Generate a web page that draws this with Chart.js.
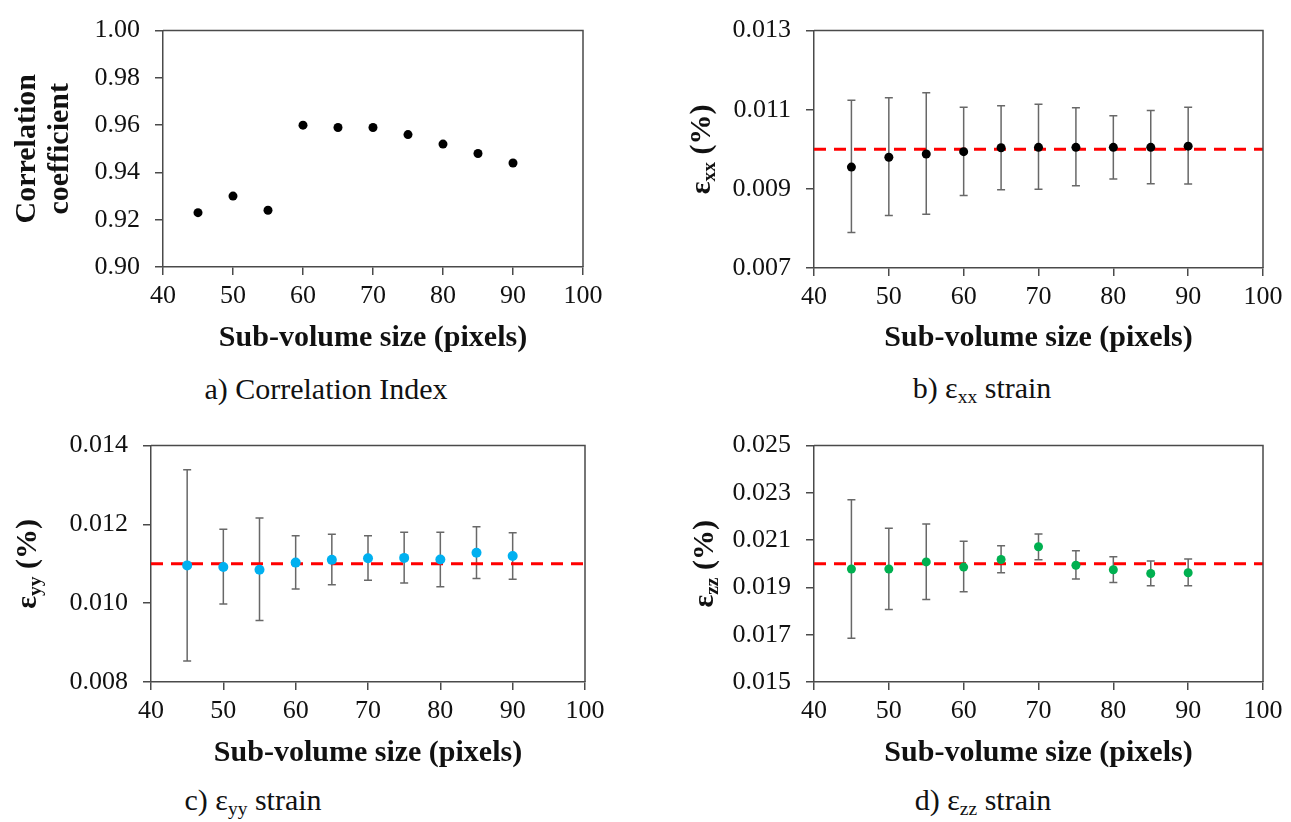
<!DOCTYPE html>
<html>
<head>
<meta charset="utf-8">
<script src="https://cdn.jsdelivr.net/npm/chart.js@4.4.0/dist/chart.umd.min.js"></script>
<style>
body { margin: 0; background: #fff; width: 1291px; height: 822px; position: relative; overflow: hidden; font-family: 'Liberation Serif', 'Times New Roman', 'DejaVu Serif', serif; }
canvas { position: absolute; }
.cap { position: absolute; font-size: 30px; color: #111; white-space: nowrap; transform: translate(-50%, -50%); }
.cap sub { font-size: 65%; vertical-align: -0.25em; line-height: 0; }
</style>
</head>
<body>
<canvas id="chartA" width="645" height="365" style="left:0;top:0"></canvas>
<canvas id="chartB" width="641" height="365" style="left:650px;top:0"></canvas>
<canvas id="chartC" width="645" height="365" style="left:0;top:415px"></canvas>
<canvas id="chartD" width="641" height="365" style="left:650px;top:415px"></canvas>
<div class="cap" style="left:326px;top:389px">a) Correlation Index</div>
<div class="cap" style="left:982px;top:388px">b) ε<sub>xx</sub> strain</div>
<div class="cap" style="left:253px;top:800px">c) ε<sub>yy</sub> strain</div>
<div class="cap" style="left:983px;top:800px">d) ε<sub>zz</sub> strain</div>
<script>
// data
var sizes = [45, 50, 55, 60, 65, 70, 75, 80, 85, 90]
var xTicks = [40, 50, 60, 70, 80, 90, 100]

var corrCoef = [0.923, 0.930, 0.924, 0.960, 0.959, 0.959, 0.956, 0.952, 0.948, 0.944]
var corrTicks = [0.90, 0.92, 0.94, 0.96, 0.98, 1.00]

var exxMean = [0.00955, 0.00980, 0.00988, 0.00994, 0.01004, 0.01005, 0.01005, 0.01005, 0.01005, 0.01008]
var exxHigh = [0.01124, 0.01130, 0.01143, 0.01106, 0.01110, 0.01114, 0.01105, 0.01085, 0.01098, 0.01106]
var exxLow = [0.00790, 0.00833, 0.00836, 0.00883, 0.00898, 0.00899, 0.00908, 0.00925, 0.00913, 0.00912]
var exxRef = 0.010
var exxTicks = [0.007, 0.009, 0.011, 0.013]

var eyyMean = [0.01096, 0.01092, 0.01085, 0.01103, 0.01110, 0.01114, 0.01115, 0.01111, 0.01128, 0.01120]
var eyyHigh = [0.01339, 0.01188, 0.01216, 0.01171, 0.01175, 0.01171, 0.01180, 0.01180, 0.01194, 0.01179]
var eyyLow = [0.00853, 0.00998, 0.00956, 0.01036, 0.01047, 0.01058, 0.01051, 0.01042, 0.01063, 0.01061]
var eyyRef = 0.011
var eyyTicks = [0.008, 0.010, 0.012, 0.014]

var ezzMean = [0.01978, 0.01978, 0.02008, 0.01986, 0.02018, 0.02072, 0.01994, 0.01975, 0.01959, 0.01962]
var ezzHigh = [0.02271, 0.02150, 0.02168, 0.02095, 0.02076, 0.02126, 0.02055, 0.02030, 0.02012, 0.02020]
var ezzLow = [0.01685, 0.01807, 0.01849, 0.01882, 0.01962, 0.02017, 0.01936, 0.01921, 0.01907, 0.01907]
var ezzRef = 0.020
var ezzTicks = [0.015, 0.017, 0.019, 0.021, 0.023, 0.025]

var fontFam = "'Liberation Serif', 'Times New Roman', 'DejaVu Serif', serif"
var axisColor = '#4a4a4a'
var textColor = '#111'

// frame round the plot area (top and right sides)
var boxPlugin = {
    id: 'box',
    afterDraw(chart) {
        var a = chart.chartArea
        var ctx = chart.ctx
        ctx.save()
        ctx.strokeStyle = axisColor
        ctx.lineWidth = 1.5
        ctx.beginPath()
        ctx.moveTo(a.left, a.top)
        ctx.lineTo(a.right, a.top)
        ctx.lineTo(a.right, a.bottom)
        ctx.stroke()
        ctx.restore()
    }
}

var errorBarPlugin = {
    id: 'errorBars',
    beforeDatasetsDraw(chart, args, opts) {
        if (!opts || !opts.low) return
        var xs = chart.scales.x, ys = chart.scales.y
        var ctx = chart.ctx
        ctx.save()
        ctx.strokeStyle = '#686868'
        ctx.lineWidth = 1.5
        for (var i = 0; i < sizes.length; i++) {
            var x = xs.getPixelForValue(sizes[i])
            var y1 = ys.getPixelForValue(opts.low[i])
            var y2 = ys.getPixelForValue(opts.high[i])
            ctx.beginPath()
            ctx.moveTo(x, y1); ctx.lineTo(x, y2)
            ctx.moveTo(x - 4, y1); ctx.lineTo(x + 4, y1)
            ctx.moveTo(x - 4, y2); ctx.lineTo(x + 4, y2)
            ctx.stroke()
        }
        ctx.restore()
    }
}

// rotated y title, with subscripts
var yTitlePlugin = {
    id: 'yTitle',
    afterDraw(chart, args, opts) {
        if (!opts || !opts.lines) return
        var ctx = chart.ctx
        var a = chart.chartArea
        var size = opts.size || 30
        ctx.save()
        ctx.fillStyle = textColor
        ctx.textBaseline = 'middle'
        ctx.textAlign = 'left'
        opts.lines.forEach(function (parts, li) {
            var x = opts.x[li]
            var total = 0
            parts.forEach(function (p) {
                ctx.font = 'bold ' + (p.sub ? size * 0.65 : size) + 'px ' + fontFam
                p.w = ctx.measureText(p.t).width
                total += p.w
            })
            ctx.save()
            ctx.translate(x, (a.top + a.bottom) / 2)
            ctx.rotate(-Math.PI / 2)
            var pos = -total / 2
            parts.forEach(function (p) {
                ctx.font = 'bold ' + (p.sub ? size * 0.65 : size) + 'px ' + fontFam
                ctx.fillText(p.t, pos, p.sub ? size * 0.28 : 0)
                pos += p.w
            })
            ctx.restore()
        })
        ctx.restore()
    }
}

function makeChart(id, cfg) {
    var datasets = [{
        data: sizes.map(function (s, i) { return { x: s, y: cfg.values[i] } }),
        backgroundColor: cfg.color,
        borderWidth: 0,
        pointRadius: cfg.radius || 4.5,
        showLine: false
    }]
    if (cfg.ref != null) {
        datasets.push({
            data: [{ x: xTicks[0], y: cfg.ref }, { x: xTicks[xTicks.length - 1], y: cfg.ref }],
            borderColor: '#ff0000',
            borderWidth: 3,
            borderDash: [12, 8],
            pointRadius: 0,
            showLine: true
        })
    }
    var tickFont = { family: fontFam, size: 26 }
    return new Chart(document.getElementById(id), {
        type: 'scatter',
        data: { datasets: datasets },
        plugins: [boxPlugin, errorBarPlugin, yTitlePlugin],
        options: {
            responsive: false,
            animation: false,
            devicePixelRatio: 1,
            layout: { padding: cfg.padding },
            plugins: {
                legend: { display: false },
                tooltip: { enabled: false },
                errorBars: { low: cfg.low, high: cfg.high },
                yTitle: cfg.yTitle
            },
            scales: {
                x: {
                    type: 'linear',
                    min: xTicks[0],
                    max: xTicks[xTicks.length - 1],
                    afterBuildTicks: function (s) { s.ticks = xTicks.map(function (v) { return { value: v } }) },
                    afterFit: function (s) { s.height = cfg.xHeight },
                    ticks: { font: tickFont, color: textColor, padding: 6, autoSkip: false, maxRotation: 0 },
                    grid: { drawOnChartArea: false, tickLength: 8, color: axisColor, lineWidth: 1.5 },
                    border: { color: axisColor, width: 1.5 },
                    title: {
                        display: true,
                        text: 'Sub-volume size (pixels)',
                        color: textColor,
                        font: { family: fontFam, size: 30, weight: 'bold' },
                        padding: { top: 0, bottom: 9 }
                    }
                },
                y: {
                    type: 'linear',
                    min: cfg.yTicks[0],
                    max: cfg.yTicks[cfg.yTicks.length - 1],
                    afterBuildTicks: function (s) { s.ticks = cfg.yTicks.map(function (v) { return { value: v } }) },
                    afterFit: function (s) { s.width = cfg.yWidth },
                    ticks: {
                        font: tickFont, color: textColor, padding: 15, autoSkip: false,
                        callback: function (v) { return Number(v).toFixed(cfg.decimals) }
                    },
                    grid: { drawOnChartArea: false, tickLength: 8, color: axisColor, lineWidth: 1.5 },
                    border: { color: axisColor, width: 1.5 }
                }
            }
        }
    })
}

makeChart('chartA', {
    values: corrCoef, color: '#000', yTicks: corrTicks, decimals: 2,
    padding: { left: 0, top: 20, right: 62, bottom: 0 }, yWidth: 163, xHeight: 98,
    yTitle: { x: [27, 60], lines: [[{ t: 'Correlation' }], [{ t: 'coefficient' }]] }
})

makeChart('chartB', {
    values: exxMean, low: exxLow, high: exxHigh, ref: exxRef, color: '#000', yTicks: exxTicks, decimals: 3,
    padding: { left: 0, top: 20, right: 28, bottom: 0 }, yWidth: 164, xHeight: 97,
    yTitle: { x: [52], lines: [[{ t: 'ε' }, { t: 'xx', sub: true }, { t: ' (%)' }]] }
})

makeChart('chartC', {
    values: eyyMean, low: eyyLow, high: eyyHigh, ref: eyyRef, color: '#00b0f0', yTicks: eyyTicks, decimals: 3,
    radius: 5,
    padding: { left: 0, top: 22, right: 60, bottom: 0 }, yWidth: 151, xHeight: 98,
    yTitle: { x: [28], lines: [[{ t: 'ε' }, { t: 'yy', sub: true }, { t: ' (%)' }]] }
})

makeChart('chartD', {
    values: ezzMean, low: ezzLow, high: ezzHigh, ref: ezzRef, color: '#00b050', yTicks: ezzTicks, decimals: 3,
    padding: { left: 0, top: 19, right: 28, bottom: 0 }, yWidth: 164, xHeight: 98,
    yTitle: { x: [55], lines: [[{ t: 'ε' }, { t: 'zz', sub: true }, { t: ' (%)' }]] }
})
</script>
</body>
</html>
